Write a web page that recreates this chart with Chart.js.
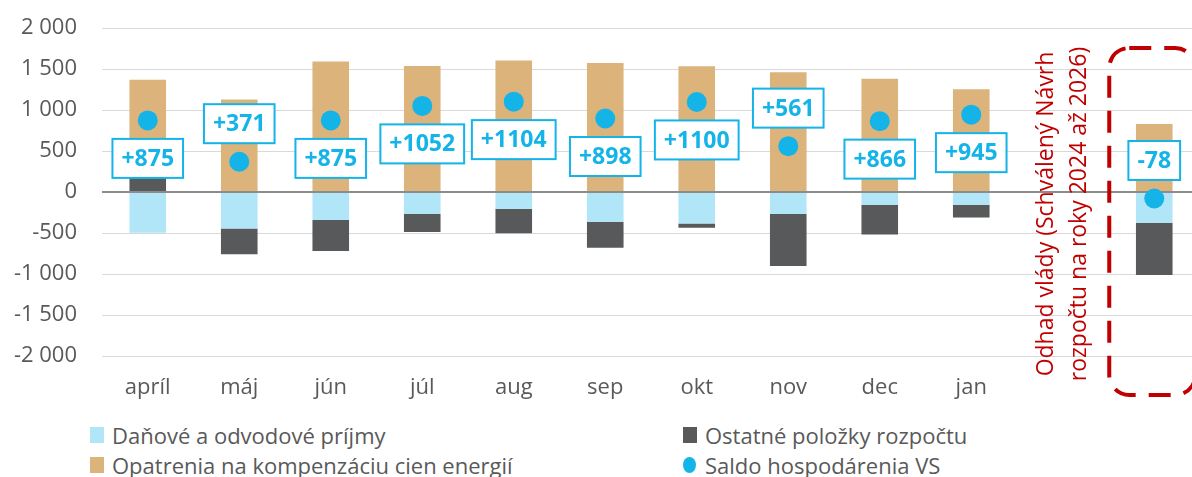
<!DOCTYPE html>
<html>
<head>
<meta charset="utf-8">
<script src="https://cdn.jsdelivr.net/npm/chart.js@4.4.1/dist/chart.umd.min.js"></script>
<style>
  body { margin: 0; overflow: hidden; background: #fff; font-family: "Open Sans", sans-serif; }
  #wrap { position: relative; width: 1192px; height: 477px; overflow: hidden; }
  #chart { position: absolute; left: 0; top: -10px; }
  .leg { position: absolute; font-size: 22px; color: #595959; white-space: nowrap; line-height: 26px; }
  .leg i { display: inline-block; position: absolute; left: -22px; top: 5px; width: 14px; height: 16px; }
</style>
</head>
<body>
<div id="wrap">
  <canvas id="chart" width="1210" height="420"></canvas>
  <div id="legend"></div>
</div>
<script>
// mesiace + dva prázdne stĺpce (popis a odhad vlády)
const categories = ["apríl", "máj", "jún", "júl", "aug", "sep", "okt", "nov", "dec", "jan", "", ""];
const danove = [-496, -443, -340, -266, -207, -363, -383, -266, -153, -153, null, -375];
const ostatne = [170, -316, -380, -222, -294, -315, -53, -637, -363, -157, null, -637];
const opatrenia = [1201, 1130, 1595, 1540, 1605, 1576, 1536, 1464, 1382, 1255, null, 832];
const saldo = [875, 371, 875, 1052, 1104, 898, 1100, 561, 866, 945, null, -78];
const poznamka = ["Odhad vlády (Schválený Návrh", "rozpočtu na roky 2024 až 2026)"];

const CYAN = "#14b4e8";
const RED = "#c00000";

function fmtTick(v) {
    const s = Math.abs(v).toString().replace(/\B(?=(\d{3})+(?!\d))/g, " ");
    return (v < 0 ? "-" : "") + s;
}

function fmtSaldo(v) {
    return (v > 0 ? "+" : "") + v;
}

const overlay = {
    id: "overlay",
    beforeDatasetDraw(chart, args) {
        // nulová čiara nad stĺpcami, pod bodmi
        if (args.index !== 3) return;
        const { ctx, chartArea } = chart;
        const y0 = chart.scales.y.getPixelForValue(0);
        ctx.save();
        ctx.strokeStyle = "#8c8c8c";
        ctx.lineWidth = 2;
        ctx.beginPath();
        ctx.moveTo(chartArea.left, y0);
        ctx.lineTo(chartArea.right, y0);
        ctx.stroke();
        ctx.restore();
    },
    afterDatasetsDraw(chart) {
        const { ctx } = chart;
        const meta = chart.getDatasetMeta(3);
        ctx.save();
        ctx.font = "bold 23px 'Open Sans'";
        ctx.textAlign = "center";
        ctx.textBaseline = "middle";
        meta.data.forEach((pt, i) => {
            const v = saldo[i];
            if (v === null) return;
            const txt = fmtSaldo(v);
            const w = ctx.measureText(txt).width + 18;
            const h = 39;
            const cy = v < 700 ? pt.y - 38 : pt.y + 38;
            ctx.fillStyle = "#fff";
            ctx.fillRect(pt.x - w / 2, cy - h / 2, w, h);
            ctx.strokeStyle = CYAN;
            ctx.lineWidth = 2;
            ctx.strokeRect(pt.x - w / 2, cy - h / 2, w, h);
            ctx.fillStyle = CYAN;
            ctx.fillText(txt, pt.x, cy + 1);
        });

        // popis odhadu vlády, otočený (canvas je posunutý o 10 px hore)
        const x = chart.scales.x;
        const xt = x.getPixelForValue(10);
        ctx.fillStyle = RED;
        ctx.font = "23px 'Open Sans'";
        ctx.translate(xt, 224);
        ctx.rotate(-Math.PI / 2);
        ctx.fillText(poznamka[0], 0, -16);
        ctx.fillText(poznamka[1], 0, 17);
        ctx.setTransform(1, 0, 0, 1, 0, 0);

        // prerušovaný rámik okolo odhadu
        const xe = x.getPixelForValue(11);
        const l = xe - 45, r = xe + 41, t = 58, b = 405, rad = 20;
        ctx.strokeStyle = RED;
        ctx.lineWidth = 4;
        ctx.setLineDash([22, 13]);
        ctx.beginPath();
        ctx.roundRect(l, t, r - l, b - t, rad);
        ctx.stroke();
        ctx.restore();
    }
};

const chart = new Chart(document.getElementById("chart"), {
    data: {
        labels: categories,
        datasets: [
            { type: "bar", label: "Daňové a odvodové príjmy", data: danove, backgroundColor: "#b0e6f8", order: 1 },
            { type: "bar", label: "Ostatné položky rozpočtu", data: ostatne, backgroundColor: "#58595b", order: 1 },
            { type: "bar", label: "Opatrenia na kompenzáciu cien energií", data: opatrenia, backgroundColor: "#dbb37b", order: 1 },
            {
                type: "line", label: "Saldo hospodárenia VS", data: saldo, stack: "saldo",
                showLine: false, pointRadius: 10, pointHoverRadius: 10,
                pointBackgroundColor: CYAN, pointBorderWidth: 0, borderColor: CYAN, order: 0
            }
        ]
    },
    options: {
        responsive: false,
        devicePixelRatio: 1,
        animation: false,
        layout: { padding: { top: 16, left: 2, right: 0, bottom: 0 } },
        datasets: { bar: { barPercentage: 0.4, categoryPercentage: 1 } },
        plugins: { legend: { display: false }, tooltip: { enabled: false } },
        scales: {
            x: {
                stacked: true,
                grid: { display: false, drawTicks: false },
                border: { display: false },
                ticks: { color: "#595959", font: { family: "Open Sans", size: 22 }, padding: 19, maxRotation: 0 },
                afterFit(s) { s.height = 54; }
            },
            y: {
                stacked: true,
                min: -2000,
                max: 2000,
                grid: { color: "#d9d9d9", lineWidth: 1, drawTicks: false },
                border: { display: false },
                ticks: {
                    stepSize: 500,
                    padding: 25,
                    color: "#595959",
                    font: { family: "Open Sans", size: 22 },
                    callback: (v) => fmtTick(v)
                },
                afterFit(s) { s.width = 100; }
            }
        }
    },
    plugins: [overlay]
});

// legenda v dvoch stĺpcoch
const legendPos = [
    { ds: 0, left: 112, top: 422 },
    { ds: 1, left: 705, top: 422 },
    { ds: 2, left: 112, top: 452 },
    { ds: 3, left: 705, top: 452 }
];
const legendDiv = document.getElementById("legend");
legendPos.forEach((p) => {
    const ds = chart.data.datasets[p.ds];
    const color = ds.type === "line" ? ds.pointBackgroundColor : ds.backgroundColor;
    const el = document.createElement("div");
    el.className = "leg";
    el.style.left = p.left + "px";
    el.style.top = p.top + "px";
    const mark = document.createElement("i");
    mark.style.background = color;
    if (ds.type === "line") {
        mark.style.borderRadius = "50%";
        mark.style.width = "13px";
    }
    el.appendChild(mark);
    el.appendChild(document.createTextNode(ds.label));
    legendDiv.appendChild(el);
});
</script>
</body>
</html>
